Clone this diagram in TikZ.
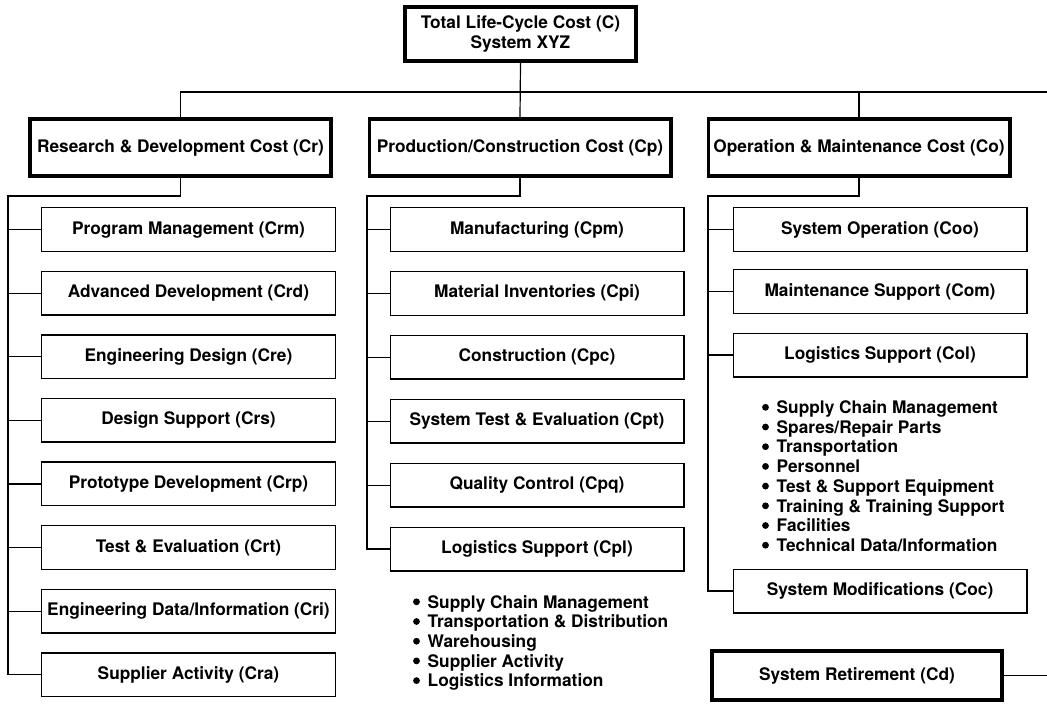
\documentclass[tikz,border=0pt]{standalone}
\usepackage{fontspec}
\setmainfont{TeX Gyre Heros}
\begin{document}
\begin{tikzpicture}[x=1pt,y=-1pt,
  txt/.style={font=\fontsize{17.3}{19.7}\selectfont\bfseries},
  topbox/.style={txt,draw,line width=3.6pt,inner sep=0pt,align=center,minimum width=231.4pt,minimum height=54.4pt},
  majorbox/.style={txt,draw,line width=3.6pt,inner sep=0pt,minimum width=301.4pt,minimum height=57.4pt},
  endbox/.style={txt,draw,line width=3.6pt,inner sep=0pt,minimum width=290.4pt,minimum height=49.4pt},
  minorbox/.style={txt,draw,line width=1.4pt,inner sep=0pt,minimum width=293.6pt,minimum height=43.6pt},
  conn/.style={line width=1.2pt},
  list/.style={txt,align=left,anchor=north west,inner sep=0pt},
  dot/.style={fill=black}]
\useasboundingbox (0,0) rectangle (1047,704);

% top
\node[topbox] (top) at (520.5,34) {Total Life-Cycle Cost (C)\\System XYZ};

% major boxes
\node[majorbox] (cr) at (180.5,147.5) {Research \& Development Cost (Cr)};
\node[majorbox] (cp) at (520,147.5) {Production/Construction Cost (Cp)};
\node[majorbox] (co) at (859,147.5) {Operation \& Maintenance Cost (Co)};
\node[endbox] (cd) at (857,675.5) {System Retirement (Cd)};

% R&D children
\node[minorbox] (r1) at (188.5,229.5) {Program Management (Crm)};
\node[minorbox] (r2) at (188.5,293.1) {Advanced Development (Crd)};
\node[minorbox] (r3) at (188.5,356.7) {Engineering Design (Cre)};
\node[minorbox] (r4) at (188.5,420.3) {Design Support (Crs)};
\node[minorbox] (r5) at (188.5,483.9) {Prototype Development (Crp)};
\node[minorbox] (r6) at (188.5,547.5) {Test \& Evaluation (Crt)};
\node[minorbox] (r7) at (188.5,611.1) {Engineering Data/Information (Cri)};
\node[minorbox] (r8) at (188.5,674.7) {Supplier Activity (Cra)};

% production children
\node[minorbox] (p1) at (537,229.5) {Manufacturing (Cpm)};
\node[minorbox] (p2) at (537,293.4) {Material Inventories (Cpi)};
\node[minorbox] (p3) at (537,357.3) {Construction (Cpc)};
\node[minorbox] (p4) at (537,421.2) {System Test \& Evaluation (Cpt)};
\node[minorbox] (p5) at (537,485.1) {Quality Control (Cpq)};
\node[minorbox] (p6) at (537,549) {Logistics Support (Cpl)};

% O&M children
\node[minorbox] (o1) at (880,229.5) {System Operation (Coo)};
\node[minorbox] (o2) at (880,291.5) {Maintenance Support (Com)};
\node[minorbox] (o3) at (880,355) {Logistics Support (Col)};
\node[minorbox] (o4) at (880,591) {System Modifications (Coc)};

% lists
\node[list] (pl) at (427.5,595) {Supply Chain Management\\Transportation \& Distribution\\Warehousing\\Supplier Activity\\Logistics Information};
\node[list] (ol) at (776.5,400.5) {Supply Chain Management\\Spares/Repair Parts\\Transportation\\Personnel\\Test \& Support Equipment\\Training \& Training Support\\Facilities\\Technical Data/Information};
\foreach \i in {0,...,4}{\fill[dot,shift={(pl.north west)}] (-11,{6.8+\i*19.7}) circle (3.4pt);}
\foreach \i in {0,...,7}{\fill[dot,shift={(ol.north west)}] (-11,{6.8+\i*19.7}) circle (3.4pt);}

% connectors top level
\coordinate (re1) at (1047,92);
\coordinate (re2) at (1047,675.5);
\draw[conn] (top.south) -- (cp.north);
\draw[conn] (cr.north) |- (re1);
\draw[conn] (co.north) -- (co.north |- re1);
\draw[conn] (cd.east) -- (re2);

% R&D tree
\coordinate (lt) at (8,196);
\draw[conn] (cr.south) |- (lt) |- (r8.west);
\foreach \n in {r1,r2,r3,r4,r5,r6,r7}{\draw[conn] (lt |- \n.west) -- (\n.west);}

% production tree
\coordinate (mt) at (367,196);
\draw[conn] (cp.south) |- (mt) |- (p6.west);
\foreach \n in {p1,p2,p3,p4,p5}{\draw[conn] (mt |- \n.west) -- (\n.west);}

% O&M tree
\coordinate (rt) at (708,196);
\draw[conn] (co.south) |- (rt) |- (o4.west);
\foreach \n in {o1,o2,o3}{\draw[conn] (rt |- \n.west) -- (\n.west);}
\end{tikzpicture}
\end{document}
